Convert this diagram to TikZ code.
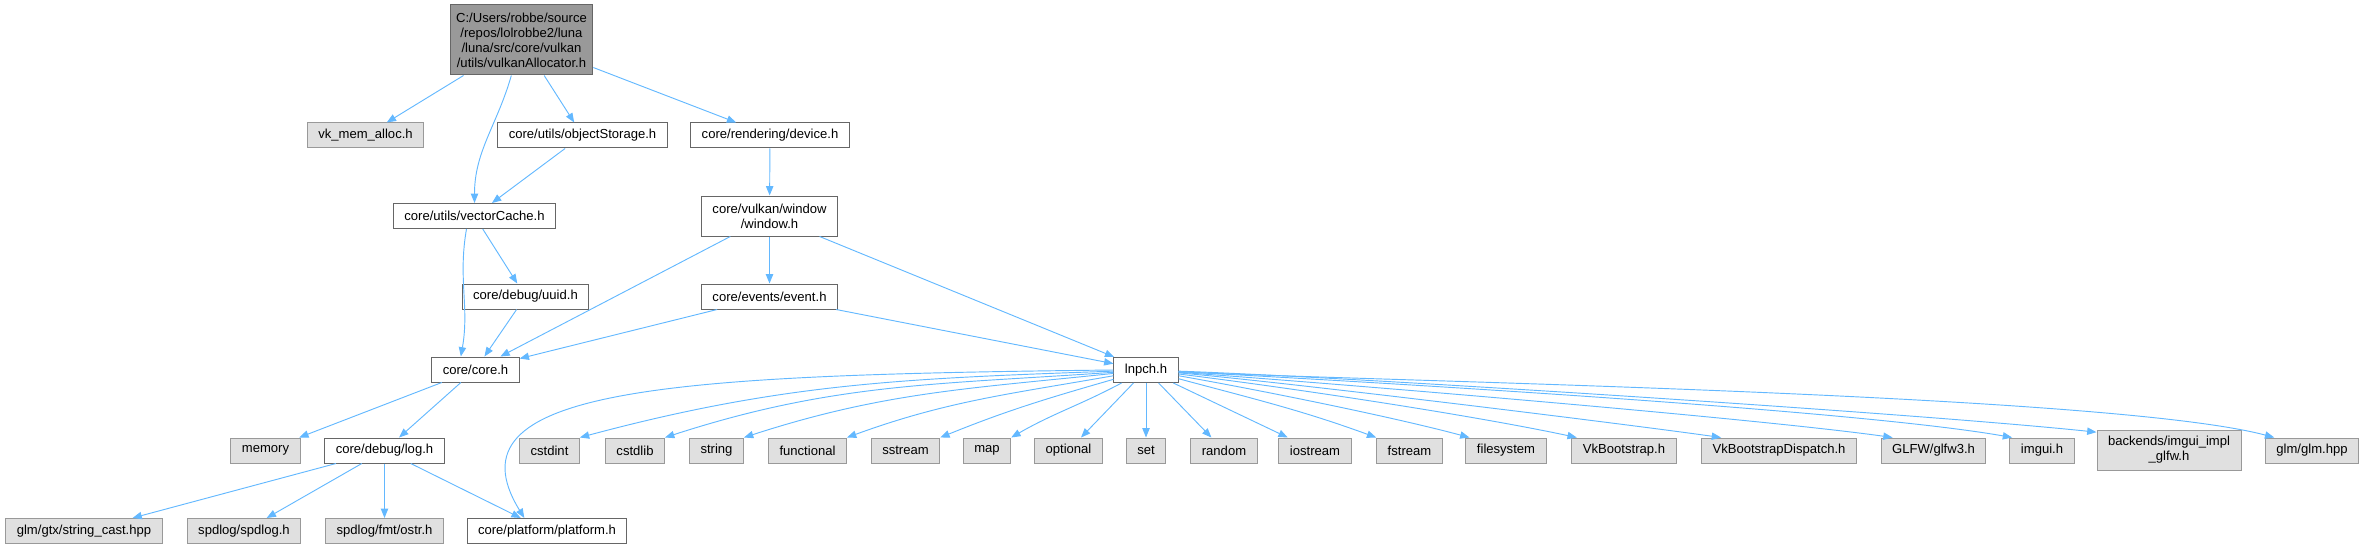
\documentclass[tikz,border=0pt]{standalone}
\usepackage{fontspec}
\setmainfont{Liberation Sans}
\usetikzlibrary{arrows.meta}

\definecolor{edgeblue}{HTML}{63B8FF}
\definecolor{hdrborder}{HTML}{666666}
\definecolor{sysborder}{HTML}{999999}
\definecolor{sysfill}{HTML}{E0E0E0}
\definecolor{mainfill}{HTML}{999999}

\begin{document}
\begin{tikzpicture}[x=0.75pt, y=0.75pt, >={Triangle[length=7pt,width=5.5pt]},
    hdr/.style={draw=hdrborder, fill=white, line width=0.75pt, align=center,
      font=\fontsize{9.8}{11.25}\selectfont, inner xsep=8.25pt, inner ysep=0pt,
      minimum height=18.75pt},
    syshdr/.style={hdr, draw=sysborder, fill=sysfill},
    mainhdr/.style={hdr, fill=mainfill, inner xsep=4.5pt, minimum height=52.5pt},
    incl/.style={->, draw=edgeblue, line width=0.7pt}]
    \useasboundingbox (0,0) rectangle (2365,-549);

    % Project headers
    \node[mainhdr] (root) at (521.5,-40) {C:/Users/robbe/source\\/repos/lolrobbe2/luna\\/luna/src/core/vulkan\\/utils/vulkanAllocator.h};
    \node[syshdr] (vkmem) at (365.5,-135.5) {vk\_mem\_alloc.h};
    \node[hdr] (objstore) at (582.5,-135.5) {core/utils/objectStorage.h};
    \node[hdr] (device) at (770,-135.5) {core/rendering/device.h};
    \node[hdr] (veccache) at (474.5,-216) {core/utils/vectorCache.h};
    \node[hdr, minimum height=30pt] (window) at (769.5,-216) {core/vulkan/window\\/window.h};
    \node[hdr] (uuid) at (525.5,-296.5) {core/debug/uuid.h};
    \node[hdr] (event) at (769.5,-296.5) {core/events/event.h};
    \node[hdr] (core) at (475.5,-369.5) {core/core.h};
    \node[hdr] (lnpch) at (1146,-370) {lnpch.h};
    \node[hdr] (log) at (384.5,-450.5) {core/debug/log.h};
    \node[hdr] (platform) at (547,-531) {core/platform/platform.h};

    % System and library headers
    \node[syshdr] (memory) at (265.5,-450.5) {memory};
    \node[syshdr] (cstdint) at (549.5,-450.5) {cstdint};
    \node[syshdr] (cstdlib) at (635,-450.5) {cstdlib};
    \node[syshdr] (string) at (716.5,-450.5) {string};
    \node[syshdr] (functional) at (807.5,-450.5) {functional};
    \node[syshdr] (sstream) at (905.5,-450.5) {sstream};
    \node[syshdr] (map) at (987,-450.5) {map};
    \node[syshdr] (optional) at (1068.5,-450.5) {optional};
    \node[syshdr] (set) at (1146,-450.5) {set};
    \node[syshdr] (random) at (1224,-450.5) {random};
    \node[syshdr] (iostream) at (1315,-450.5) {iostream};
    \node[syshdr] (fstream) at (1409.5,-450.5) {fstream};
    \node[syshdr] (filesystem) at (1506,-450.5) {filesystem};
    \node[syshdr] (vkboot) at (1624,-450.5) {VkBootstrap.h};
    \node[syshdr] (vkdispatch) at (1779,-450.5) {VkBootstrapDispatch.h};
    \node[syshdr] (glfw) at (1933.5,-450.5) {GLFW/glfw3.h};
    \node[syshdr] (imgui) at (2042,-450.5) {imgui.h};
    \node[syshdr, minimum height=30pt] (backends) at (2169,-450) {backends/imgui\_impl\\\_glfw.h};
    \node[syshdr] (glmhpp) at (2312,-450.5) {glm/glm.hpp};
    \node[syshdr] (strcast) at (84,-531) {glm/gtx/string\_cast.hpp};
    \node[syshdr] (spdlog) at (244,-531) {spdlog/spdlog.h};
    \node[syshdr] (ostr) at (384.5,-531) {spdlog/fmt/ostr.h};

    % Includes of the main file
    \draw[incl] (root) -- (vkmem);
    \draw[incl] (root) to[out=-106,in=90] (veccache);
    \draw[incl] (root) -- (objstore);
    \draw[incl] (root) -- (device);
    \draw[incl] (objstore) -- (veccache);
    \draw[incl] (device) -- (window);
    \draw[incl] ([xshift=-6pt]veccache.south) to[out=-100,in=80] ([xshift=-11pt]core.north);
    \draw[incl] (veccache) -- (uuid);
    \draw[incl] (uuid) -- (core);
    \draw[incl] (window) -- (core);
    \draw[incl] (window) -- (event);
    \draw[incl] (window) -- (lnpch);
    \draw[incl] (event) -- (core);
    \draw[incl] (event) -- (lnpch);

    % core.h and log.h
    \draw[incl] (core) -- (memory);
    \draw[incl] (core) -- (log);
    \draw[incl] (log) -- (strcast);
    \draw[incl] (log) -- (spdlog);
    \draw[incl] (log) -- (ostr);
    \draw[incl] (log) -- (platform);

    % Precompiled header, left side
    \draw[incl] (lnpch.west) .. controls +(-450,-5) and +(-80,130) .. ([xshift=-17pt]platform.north);
    \draw[incl] (lnpch) to[out=182,in=15] (cstdint.north east);
    \draw[incl] (lnpch) to[out=184,in=18] (cstdlib.north east);
    \draw[incl] (lnpch) to[out=186,in=18] (string.north east);
    \draw[incl] (lnpch) to[out=190,in=20] (functional.north east);
    \draw[incl] (lnpch) to[out=196,in=22] (sstream.north east);
    \draw[incl] (lnpch) to[out=208,in=30] (map.north east);
    \draw[incl] (lnpch) -- (optional);
    \draw[incl] (lnpch) -- (set);
    \draw[incl] (lnpch) -- (random);
    \draw[incl] (lnpch) -- (iostream);

    % Precompiled header, right side
    \draw[incl] (lnpch) to[out=-15,in=160] (fstream.north west);
    \draw[incl] (lnpch) to[out=-10,in=165,looseness=0.7] ([xshift=3pt]filesystem.north west);
    \draw[incl] (lnpch) to[out=-7,in=168,looseness=0.7] ([xshift=4pt]vkboot.north west);
    \draw[incl] (lnpch) to[out=-5,in=172,looseness=0.5] ([xshift=15pt]vkdispatch.north west);
    \draw[incl] (lnpch) to[out=-4,in=172,looseness=0.5] ([xshift=9pt]glfw.north west);
    \draw[incl] (lnpch) to[out=-3,in=170,looseness=0.5] ([xshift=2pt]imgui.north west);
    \draw[incl] (lnpch) to[out=-2,in=174,looseness=0.5] ([yshift=-2pt]backends.north west);
    \draw[incl] (lnpch) to[out=-3,in=165,looseness=0.4] ([xshift=7pt]glmhpp.north west);
\end{tikzpicture}
\end{document}
